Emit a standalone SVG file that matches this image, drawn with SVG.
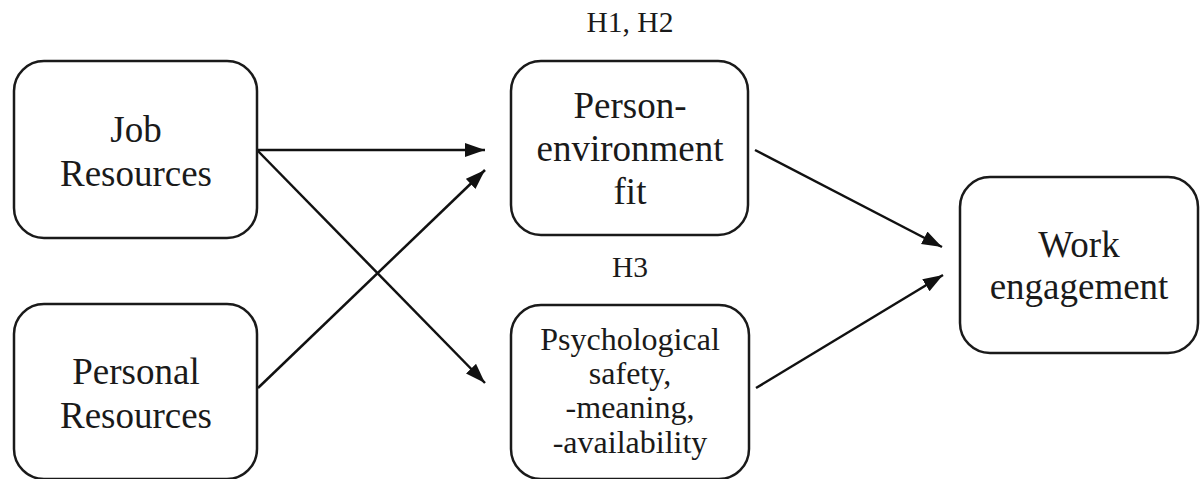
<svg xmlns="http://www.w3.org/2000/svg" width="1200" height="479" viewBox="0 0 1200 479">
<style>
.box{fill:#fff;stroke:#1a1a1a;stroke-width:2.5}
.t{font-family:"Liberation Serif","Times New Roman",serif;fill:#1a1a1a;text-anchor:middle}
.big{font-size:37px}
.mid{font-size:32px}
.lab{font-size:29.5px}
.c{stroke:#111;stroke-width:2.5;fill:none;marker-end:url(#ah)}
</style>
<defs>
<marker id="ah" markerUnits="userSpaceOnUse" markerWidth="22" markerHeight="16" refX="20" refY="7" orient="auto">
<path d="M0,0 L20,7 L0,14 Z" fill="#111"/>
</marker>
</defs>
<rect width="1200" height="479" fill="#fff"/>
<g id="connectors">
<line class="c" x1="257" y1="150" x2="485" y2="150"/>
<line class="c" x1="257" y1="150" x2="485" y2="383"/>
<line class="c" x1="258" y1="388" x2="485" y2="170"/>
<line class="c" x1="755" y1="150" x2="942" y2="247"/>
<line class="c" x1="756" y1="388" x2="943" y2="275"/>
</g>
<g id="job">
<rect class="box" x="14" y="61" width="243" height="177" rx="30"/>
<text class="t big" x="136" y="142">Job</text>
<text class="t big" x="136" y="186">Resources</text>
</g>
<g id="personal">
<rect class="box" x="14" y="304" width="243" height="175" rx="30"/>
<text class="t big" x="136" y="384">Personal</text>
<text class="t big" x="136" y="428">Resources</text>
</g>
<g id="pefit">
<rect class="box" x="511" y="61" width="237" height="174" rx="30"/>
<text class="t big" x="630" y="118">Person-</text>
<text class="t big" x="630" y="161">environment</text>
<text class="t big" x="630" y="204">fit</text>
</g>
<g id="psych">
<rect class="box" x="511" y="305" width="238" height="174" rx="30"/>
<text class="t mid" x="630" y="350">Psychological</text>
<text class="t mid" x="630" y="384">safety,</text>
<text class="t mid" x="630" y="418">-meaning,</text>
<text class="t mid" x="630" y="453">-availability</text>
</g>
<g id="work">
<rect class="box" x="960" y="177" width="238" height="176" rx="30"/>
<text class="t big" x="1079" y="257">Work</text>
<text class="t big" x="1079" y="299">engagement</text>
</g>
<g id="labels">
<text class="t lab" x="630" y="32">H1, H2</text>
<text class="t lab" x="630" y="277">H3</text>
</g>
</svg>
